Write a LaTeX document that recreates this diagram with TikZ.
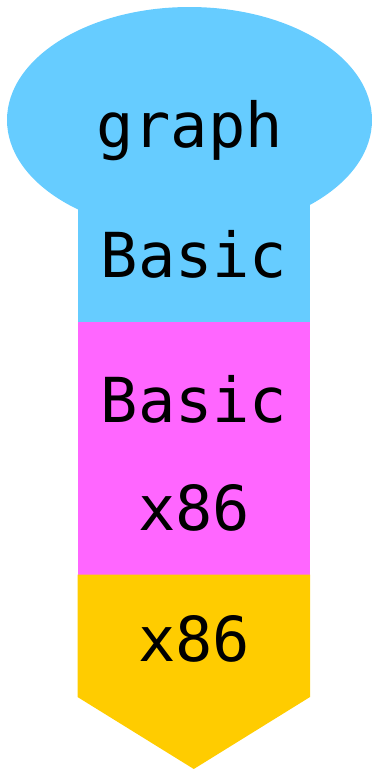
\documentclass[tikz,border=0pt]{standalone}
\usepackage{fontspec}
\setmonofont{DejaVu Sans Mono}
\definecolor{sky}{HTML}{66CCFF}
\definecolor{pink}{HTML}{FF66FF}
\definecolor{gold}{HTML}{FFCC00}
\begin{document}
\begin{tikzpicture}[x=1pt,y=1pt,yscale=-1,xscale=1,
  lbl/.style={anchor=base,inner sep=0pt,font=\fontsize{62}{68}\selectfont\ttfamily}]
\useasboundingbox (0,0) rectangle (372,772);

%Shape: Ellipse [graph]
\fill [sky] (189.5,120) ellipse [x radius=182.5, y radius=113];
%Shape: Rectangle [blue part]
\fill [sky] (77.5,200) rectangle (310,322);
%Shape: Rectangle [pink part]
\fill [pink] (77.5,322) rectangle (310,574.5);
%Shape: Pentagon [gold part]
\fill [gold] (77.5,574.5) -- (310,574.5) -- (310,697) -- (193.8,769) -- (77.5,697) -- cycle ;

% Text Node
\node [lbl] (graph) at (189.5,147) {graph};
% Text Node
\node [lbl] (basicA) at (194,277) {Basic};
% Text Node
\node [lbl] (basicB) at (194,422) {Basic};
% Text Node
\node [lbl] (xA) at (194,530) {x86};
% Text Node
\node [lbl] (xB) at (194,661) {x86};

\end{tikzpicture}
\end{document}
